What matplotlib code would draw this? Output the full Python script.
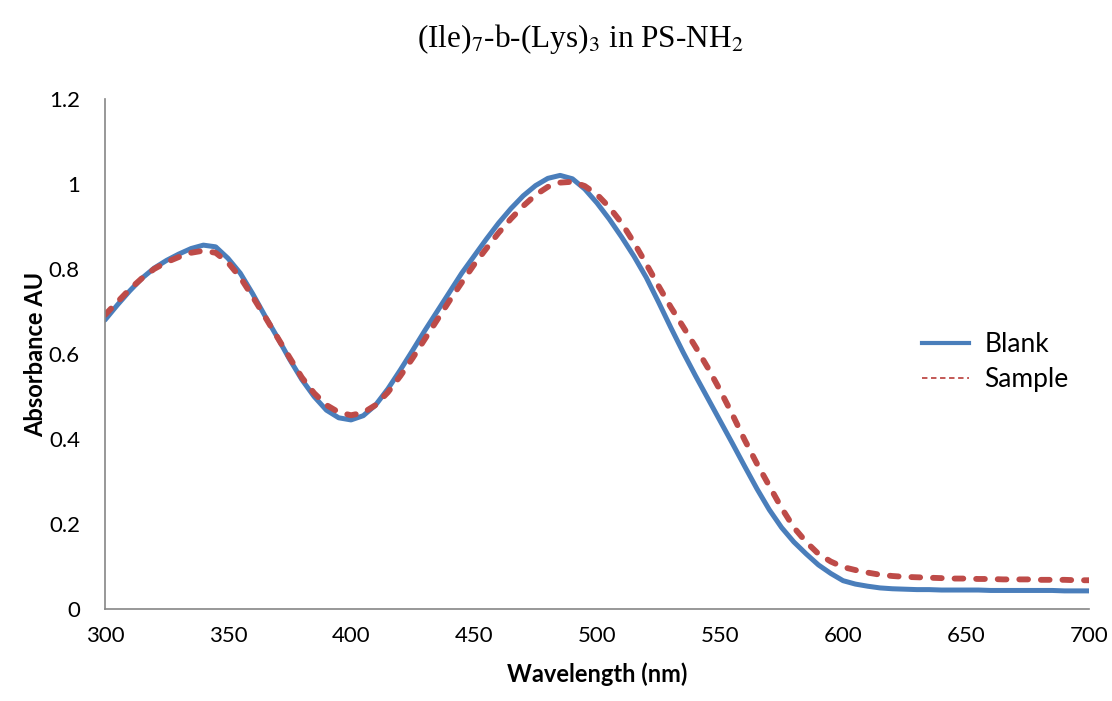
import numpy as np
import matplotlib
matplotlib.use("Agg")
import matplotlib.pyplot as plt
from matplotlib.lines import Line2D

wavelength = list(range(300, 701, 5))

blank = [0.680, 0.715, 0.748, 0.778, 0.802, 0.820, 0.835, 0.848, 0.856, 0.852,
         0.825, 0.790, 0.742, 0.690, 0.640, 0.588, 0.540, 0.500, 0.468, 0.450,
         0.445, 0.455, 0.480, 0.518, 0.562, 0.608, 0.655, 0.700, 0.745, 0.790,
         0.830, 0.870, 0.908, 0.942, 0.972, 0.996, 1.013, 1.020, 1.012, 0.988,
         0.955, 0.917, 0.875, 0.830, 0.780, 0.722, 0.662, 0.604, 0.549, 0.496,
         0.443, 0.390, 0.336, 0.283, 0.234, 0.192, 0.158, 0.130, 0.104, 0.084,
         0.067, 0.059, 0.054, 0.050, 0.048, 0.047, 0.046, 0.046, 0.045, 0.045,
         0.045, 0.045, 0.044, 0.044, 0.044, 0.044, 0.044, 0.044, 0.043, 0.043,
         0.043]

sample = [0.692, 0.722, 0.752, 0.778, 0.800, 0.816, 0.828, 0.838, 0.843, 0.838,
          0.815, 0.780, 0.735, 0.688, 0.640, 0.592, 0.545, 0.508, 0.480, 0.463,
          0.456, 0.462, 0.480, 0.510, 0.548, 0.590, 0.635, 0.680, 0.725, 0.768,
          0.810, 0.848, 0.885, 0.918, 0.948, 0.974, 0.993, 1.003, 1.005, 0.995,
          0.975, 0.945, 0.908, 0.862, 0.812, 0.760, 0.710, 0.664, 0.617, 0.568,
          0.515, 0.458, 0.398, 0.342, 0.290, 0.238, 0.192, 0.158, 0.130, 0.112,
          0.099, 0.092, 0.086, 0.081, 0.078, 0.076, 0.075, 0.074, 0.073, 0.072,
          0.072, 0.071, 0.071, 0.070, 0.070, 0.070, 0.069, 0.069, 0.069, 0.068,
          0.068]

plt.rcParams['font.family'] = ['Lato', 'DejaVu Sans']
plt.rcParams['mathtext.fontset'] = 'stix'

fig = plt.figure(figsize=(11.12, 7.01), dpi=100)
ax = fig.add_axes([0.0944, 0.131, 0.885, 0.728])

blue = '#4a7ebb'
red = '#be4b48'

ax.plot(wavelength, blank, color=blue, lw=3.6, solid_capstyle='round',
        solid_joinstyle='round')
ax.plot(wavelength, sample, color=red, lw=4.2, dashes=(1.5, 2.2),
        dash_capstyle='round', dash_joinstyle='round')

ax.set_xlim(300, 700)
ax.set_ylim(0, 1.2)
ax.set_xticks([300, 350, 400, 450, 500, 550, 600, 650, 700])
ax.set_yticks([0, 0.2, 0.4, 0.6, 0.8, 1.0, 1.2])
ax.set_yticklabels(['0', '0.2', '0.4', '0.6', '0.8', '1', '1.2'])
ax.tick_params(length=0, labelsize=16)
ax.tick_params(axis='y', pad=18)
ax.tick_params(axis='x', pad=12)

for s in ['top', 'right']:
    ax.spines[s].set_visible(False)
for s in ['left', 'bottom']:
    ax.spines[s].set_color('#868686')
    ax.spines[s].set_linewidth(1.2)

ax.set_xlabel('Wavelength (nm)', fontsize=17, fontweight='bold', labelpad=12)
ax.set_ylabel('Absorbance AU', fontsize=17, fontweight='bold', labelpad=1)

fig.text(0.5216, 0.945, r'(Ile)$_7$-b-(Lys)$_3$ in PS-NH$_2$',
         ha='center', va='center', fontsize=22.5, family='Liberation Serif')

handles = [Line2D([], [], color=blue, lw=3.0),
           Line2D([], [], color=red, lw=1.3, ls=(0, (3, 2)))]
ax.legend(handles, ['Blank', 'Sample'], loc='center left',
          bbox_to_anchor=(0.83, 0.484), frameon=False, fontsize=19,
          handlelength=1.8, handletextpad=0.57, labelspacing=0.36,
          borderpad=0, borderaxespad=0)

fig.savefig('out.png', dpi=100)
